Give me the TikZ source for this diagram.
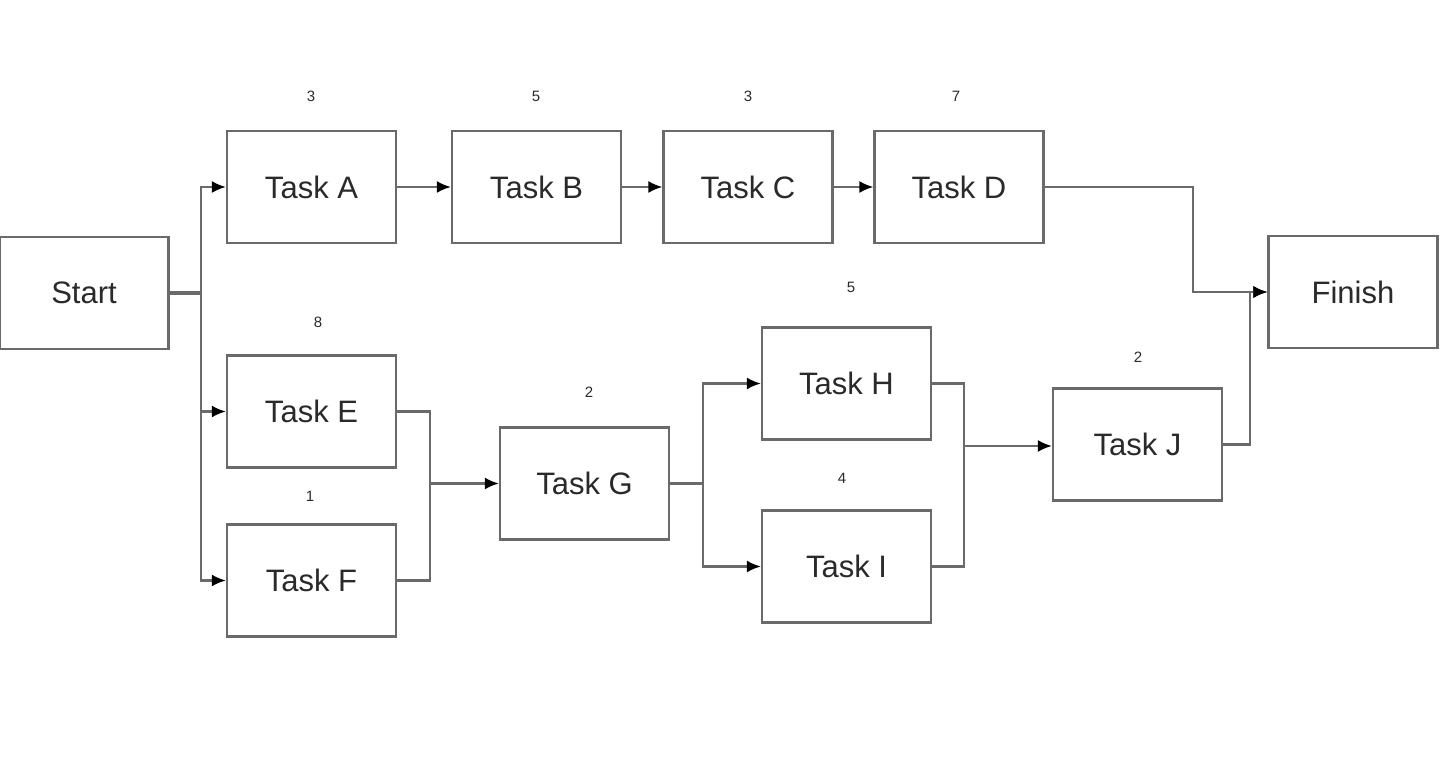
\documentclass[tikz,border=0pt]{standalone}
\usepackage{fontspec}
\setmainfont{Liberation Sans}
\usetikzlibrary{arrows.meta}
\definecolor{ln}{HTML}{6A6A6A}
\definecolor{tx}{HTML}{2A2A2A}
\begin{document}
\begin{tikzpicture}[x=0.5pt,y=-0.5pt,
  box/.style={draw=ln,line width=1.1pt,fill=white,minimum width=84.5pt,minimum height=56pt,inner sep=0pt,text=tx,font=\fontsize{15.5}{17}\selectfont},
  num/.style={text=tx,font=\fontsize{7.5}{9}\selectfont,inner sep=0pt},
  conn/.style={draw=ln,line width=1.1pt},
  arr/.style={conn,-{Latex[length=7pt,width=6pt,black]}}]
\fill[white] (0,0) rectangle (1440,774);
\useasboundingbox (0,0) rectangle (1440,774);
\node[box] (S) at (84,293) {Start};
\node[box] (A) at (311.5,187) {Task A};
\node[box] (B) at (536.5,187) {Task B};
\node[box] (C) at (748,187) {Task C};
\node[box] (D) at (959,187) {Task D};
\node[box] (F1) at (1353,292) {Finish};
\node[box] (E) at (311.5,411.5) {Task E};
\node[box] (F) at (311.5,580.5) {Task F};
\node[box] (G) at (584.5,483.5) {Task G};
\node[box] (H) at (846.5,383.5) {Task H};
\node[box] (I) at (846.5,566.5) {Task I};
\node[box] (J) at (1137.5,444.5) {Task J};
\node[num] (nA) at (311,96) {3};
\node[num] (nB) at (536,96) {5};
\node[num] (nC) at (748,96) {3};
\node[num] (nD) at (956,96) {7};
\node[num] (nE) at (318,322) {8};
\node[num] (nF) at (310,496) {1};
\node[num] (nG) at (589,392) {2};
\node[num] (nH) at (851,287) {5};
\node[num] (nI) at (842,478) {4};
\node[num] (nJ) at (1138,357) {2};
\coordinate (s1) at (201,293);
\coordinate (ef) at (430,483.5);
\coordinate (gh) at (703,483.5);
\coordinate (hi) at (964,446);
\coordinate (dd) at (1193,187);
\coordinate (jj) at (1250,444.5);
\draw[conn,line width=1.6pt] (S.east) -- (s1);
\draw[arr] (s1) |- (A.west);
\draw[arr] (s1) |- (E.west);
\draw[arr] (s1) |- (F.west);
\draw[arr] (A) -- (B);
\draw[arr] (B) -- (C);
\draw[arr] (C) -- (D);
\draw[conn] (E.east) -| (ef);
\draw[conn] (F.east) -| (ef);
\draw[arr] (ef) -- (G.west);
\draw[conn] (G.east) -- (gh);
\draw[arr] (gh) |- (H.west);
\draw[arr] (gh) |- (I.west);
\draw[conn] (H.east) -| (hi);
\draw[conn] (I.east) -| (hi);
\draw[arr] (hi) -- (J.west |- hi);
\draw[arr] (D.east) -| (dd) |- (F1.west);
\draw[arr] (J.east) -| (jj) |- (F1.west);
\end{tikzpicture}
\end{document}
